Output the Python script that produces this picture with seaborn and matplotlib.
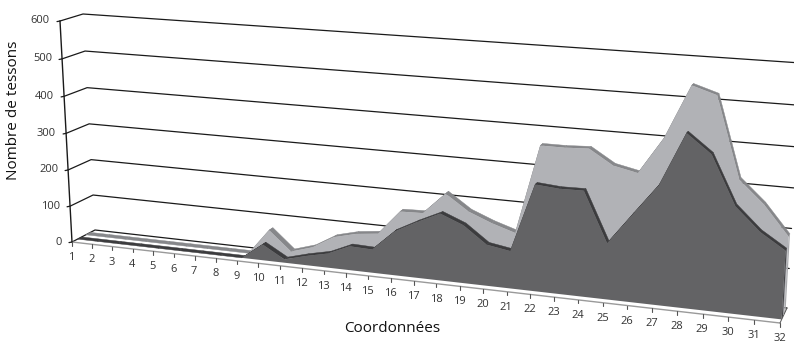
import numpy as np
import pandas as pd
import matplotlib
matplotlib.use('Agg')
import matplotlib.pyplot as plt
import seaborn as sns

# Values
coords = list(range(1, 33))
front_series = [0, 0, 0, 0, 0, 0, 0, 0, 0, 43, 9, 25, 38, 64, 62, 116,
                147, 175, 151, 107, 97, 273, 268, 269, 143, 222, 300, 432, 386, 266, 209, 170]
back_series = [0, 0, 0, 0, 0, 0, 0, 0, 0, 70, 18, 36, 70, 85, 92, 157,
               159, 216, 175, 151, 132, 361, 361, 364, 327, 314, 406, 538, 519, 320, 265, 193]
y_ticks = [0, 100, 200, 300, 400, 500, 600]

sns.set_theme(style='white')
plt.rcParams['font.family'] = ['Open Sans', 'DejaVu Sans']


# Perspective of the Excel-like 3D chart: corners of the front and back planes in pixels
def homography(src, dst):
    rows = []
    for (a, b), (u, v) in zip(src, dst):
        rows.append([a, b, 1, 0, 0, 0, -u * a, -u * b, -u])
        rows.append([0, 0, 0, a, b, 1, -v * a, -v * b, -v])
    return np.linalg.svd(np.array(rows, dtype=float))[2][-1].reshape(3, 3)


corners = [(1, 0), (32, 0), (1, 600), (32, 600)]
H_front = homography(corners, [(72, 242), (780, 323), (60, 21), (794, 72)])
H_back = homography(corners, [(95, 230), (787, 308), (83, 14), (801, 63)])


def project(x, v, d):
    # d = 0 front of the box, d = 1 back wall
    p = np.array([x, v, 1.0])
    f = H_front @ p
    b = H_back @ p
    return (1 - d) * f[:2] / f[2] + d * b[:2] / b[2]


def face(ax, values, d, color, z):
    pts = [project(x, v, d) for x, v in zip(coords, values)]
    pts += [project(coords[-1], 0, d), project(coords[0], 0, d)]
    pts = np.array(pts)
    ax.fill(pts[:, 0], pts[:, 1], color=color, lw=0, zorder=z)


def band(ax, values, d0, d1, color, z):
    # top surface of a series, one quad per segment
    for i in range(len(coords) - 1):
        pts = np.array([project(coords[i], values[i], d0),
                        project(coords[i + 1], values[i + 1], d0),
                        project(coords[i + 1], values[i + 1], d1),
                        project(coords[i], values[i], d1)])
        ax.fill(pts[:, 0], pts[:, 1], color=color, lw=0.3, zorder=z)


def side(ax, values, d0, d1, color, z):
    pts = np.array([project(32, 0, d0), project(32, values[-1], d0),
                    project(32, values[-1], d1), project(32, 0, d1)])
    ax.fill(pts[:, 0], pts[:, 1], color=color, lw=0, zorder=z)


fig = plt.figure(figsize=(7.94, 3.43), dpi=100)
ax = fig.add_axes([0, 0, 1, 1])

# Grid lines: side wall then back wall
rows = []
for level in y_ticks:
    for (x, d) in [(1, 0), (1, 1), (32, 1)]:
        px, py = project(x, level, d)
        rows.append({'level': level, 'px': px, 'py': py})
grid = pd.DataFrame(rows)
sns.lineplot(data=grid, x='px', y='py', units='level', estimator=None, sort=False,
             color='#1a1a1a', linewidth=0.9, ax=ax, zorder=1, legend=False)

# Back series
band(ax, back_series, 0.60, 0.80, '#86878a', 3)
side(ax, back_series, 0.60, 0.80, '#a9aaad', 3)
face(ax, back_series, 0.60, '#b1b2b6', 4)

# Front series
band(ax, front_series, 0.24, 0.42, '#3c3c3e', 5)
side(ax, front_series, 0.24, 0.42, '#47474a', 5)
face(ax, front_series, 0.24, '#636365', 6)

# Front floor edge and right edge
p0 = project(1, 0, 0)
p1 = project(32, 0, 0)
ax.plot([p0[0], p1[0]], [p0[1], p1[1]], color='#9a9a9a', lw=1.0, zorder=7)
pr = project(32, 0, 1)
ax.plot([p1[0], pr[0]], [p1[1], pr[1]], color='#555555', lw=0.7, zorder=7)

# Vertical axis
top = project(1, 600, 0)
ax.plot([p0[0], top[0]], [p0[1], top[1]], color='#1a1a1a', lw=1.0, zorder=8)
for level in y_ticks:
    px, py = project(1, level, 0)
    ax.plot([px - 3, px], [py + 0.6, py], color='#1a1a1a', lw=0.9, zorder=8)
    ax.text(px - 10, py, str(level), ha='right', va='center', fontsize=8, color='#333333')

# Category ticks
for c in coords:
    px, py = project(c, 0, 0)
    ax.plot([px, px], [py, py + 3.5], color='#555555', lw=0.8, zorder=8)
    ax.text(px - 0.5, py + 15.5, str(c), ha='center', va='center', fontsize=8, color='#333333')

ax.text(14, 110, 'Nombre de tessons', rotation=90, ha='center', va='center',
        fontsize=11, color='#111111')
ax.text(392, 328, 'Coordonnées', ha='center', va='center', fontsize=11, color='#111111')

ax.set_xlim(0, 794)
ax.set_ylim(343, 0)
ax.axis('off')

fig.savefig('out.png', dpi=100)
